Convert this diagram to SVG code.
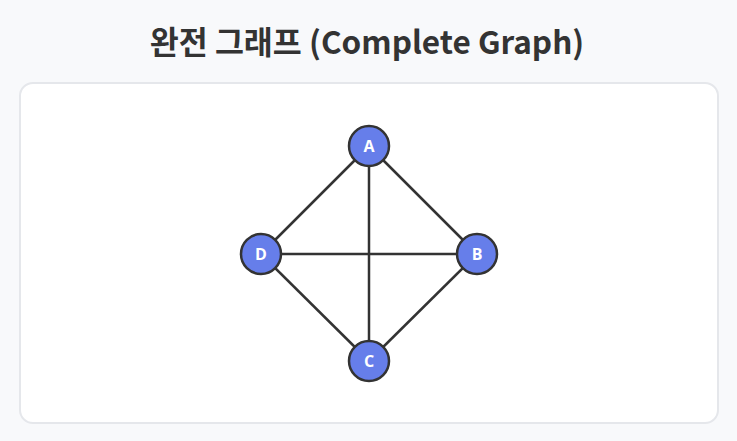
<svg xmlns="http://www.w3.org/2000/svg" width="737" height="441" viewBox="0 0 737 441">
<style>
.bg{fill:#f8f9fb}
.card{fill:#ffffff;stroke:#e5e7eb;stroke-width:2}
.title{font-family:"Noto Sans CJK KR","Noto Sans",sans-serif;font-weight:700;font-size:31.5px;fill:#333333}
.edge{stroke:#333333;stroke-width:2.5;fill:none}
.node circle{fill:#667eea;stroke:#333333;stroke-width:2.5}
.node text{font-family:"Open Sans","Noto Sans",sans-serif;font-weight:700;font-size:16px;fill:#ffffff}
</style>
<rect class="bg" x="0" y="0" width="737" height="441"/>
<text class="title" x="367" y="54" text-anchor="middle">완전 그래프 (Complete Graph)</text>
<rect class="card" x="20" y="83" width="698" height="340" rx="13"/>
<g id="edges">
<line class="edge" x1="369" y1="146" x2="477" y2="254"/>
<line class="edge" x1="369" y1="146" x2="369" y2="361"/>
<line class="edge" x1="369" y1="146" x2="261" y2="254"/>
<line class="edge" x1="477" y1="254" x2="369" y2="361"/>
<line class="edge" x1="477" y1="254" x2="261" y2="254"/>
<line class="edge" x1="369" y1="361" x2="261" y2="254"/>
</g>
<g id="node-A" class="node"><circle cx="369" cy="146" r="20"/><text x="369" y="146" text-anchor="middle" dominant-baseline="central">A</text></g>
<g id="node-B" class="node"><circle cx="477" cy="254" r="20"/><text x="477" y="254" text-anchor="middle" dominant-baseline="central">B</text></g>
<g id="node-C" class="node"><circle cx="369" cy="361" r="20"/><text x="369" y="361" text-anchor="middle" dominant-baseline="central">C</text></g>
<g id="node-D" class="node"><circle cx="261" cy="254" r="20"/><text x="261" y="254" text-anchor="middle" dominant-baseline="central">D</text></g>
</svg>
